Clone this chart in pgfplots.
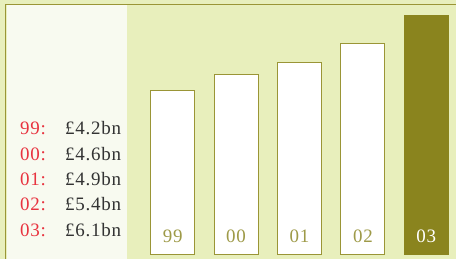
\documentclass[border=0pt]{standalone}
\usepackage{pgfplots}
\pgfplotsset{compat=1.18}
\usepackage{fontspec}
\setmainfont{Liberation Serif}[LetterSpace=4]
\definecolor{bgc}{HTML}{E8EFBC}
\definecolor{panelc}{HTML}{F8FAF0}
\definecolor{olive}{HTML}{8A841E}
\definecolor{lineol}{HTML}{9A9536}
\definecolor{labol}{HTML}{9E9A48}
\definecolor{redc}{HTML}{E8333F}
\definecolor{darkc}{HTML}{333333}
\begin{document}
\begin{tikzpicture}
\begin{axis}[
  width=457bp, height=259bp, scale only axis,
  hide axis,
  xmin=-2.724, xmax=4.472,
  ymin=-0.102, ymax=6.505,
  axis background/.style={fill=bgc},
  ybar, bar width=0.693,
  clip=false,
]
\fill[panelc] (rel axis cs:{7/457},0) rectangle (rel axis cs:{127/457},{1-5.5/259});
\draw[lineol, line width=1.6bp] (rel axis cs:{5.5/457},0) -- (rel axis cs:{5.5/457},{1-4.5/259}) -- (rel axis cs:1,{1-4.5/259});
\addplot[draw=lineol, fill=white, line width=0.9bp, bar shift=0pt] coordinates {(0,4.2) (1,4.6) (2,4.9) (3,5.4)};
\addplot[draw=olive, fill=olive, line width=0.9bp, bar shift=0pt] coordinates {(4,6.1)};
\foreach \lab/\val [count=\i from 0] in {99/4.2,00/4.6,01/4.9,02/5.4,03/6.1} {
  \pgfmathsetmacro{\yy}{(124-25.4*\i)/259}
  \edef\temp{\noexpand\node[anchor=base west, inner sep=0pt, text=redc, font=\noexpand\fontsize{19bp}{20bp}\noexpand\selectfont] at (rel axis cs:{20/457},\yy) {\lab:};
  \noexpand\node[anchor=base west, inner sep=0pt, text=darkc, font=\noexpand\fontsize{19bp}{20bp}\noexpand\selectfont] at (rel axis cs:{65/457},\yy) {£\val bn};}
  \temp
}
\node[anchor=base, inner sep=0pt, text=labol, font=\fontsize{19bp}{20bp}\selectfont] at (axis cs:0,0) [yshift=12bp] {99};
\node[anchor=base, inner sep=0pt, text=labol, font=\fontsize{19bp}{20bp}\selectfont] at (axis cs:1,0) [yshift=12bp] {00};
\node[anchor=base, inner sep=0pt, text=labol, font=\fontsize{19bp}{20bp}\selectfont] at (axis cs:2,0) [yshift=12bp] {01};
\node[anchor=base, inner sep=0pt, text=labol, font=\fontsize{19bp}{20bp}\selectfont] at (axis cs:3,0) [yshift=12bp] {02};
\node[anchor=base, inner sep=0pt, text=white, font=\fontsize{19bp}{20bp}\selectfont] at (axis cs:4,0) [yshift=12bp] {03};
\end{axis}
\end{tikzpicture}
\end{document}
